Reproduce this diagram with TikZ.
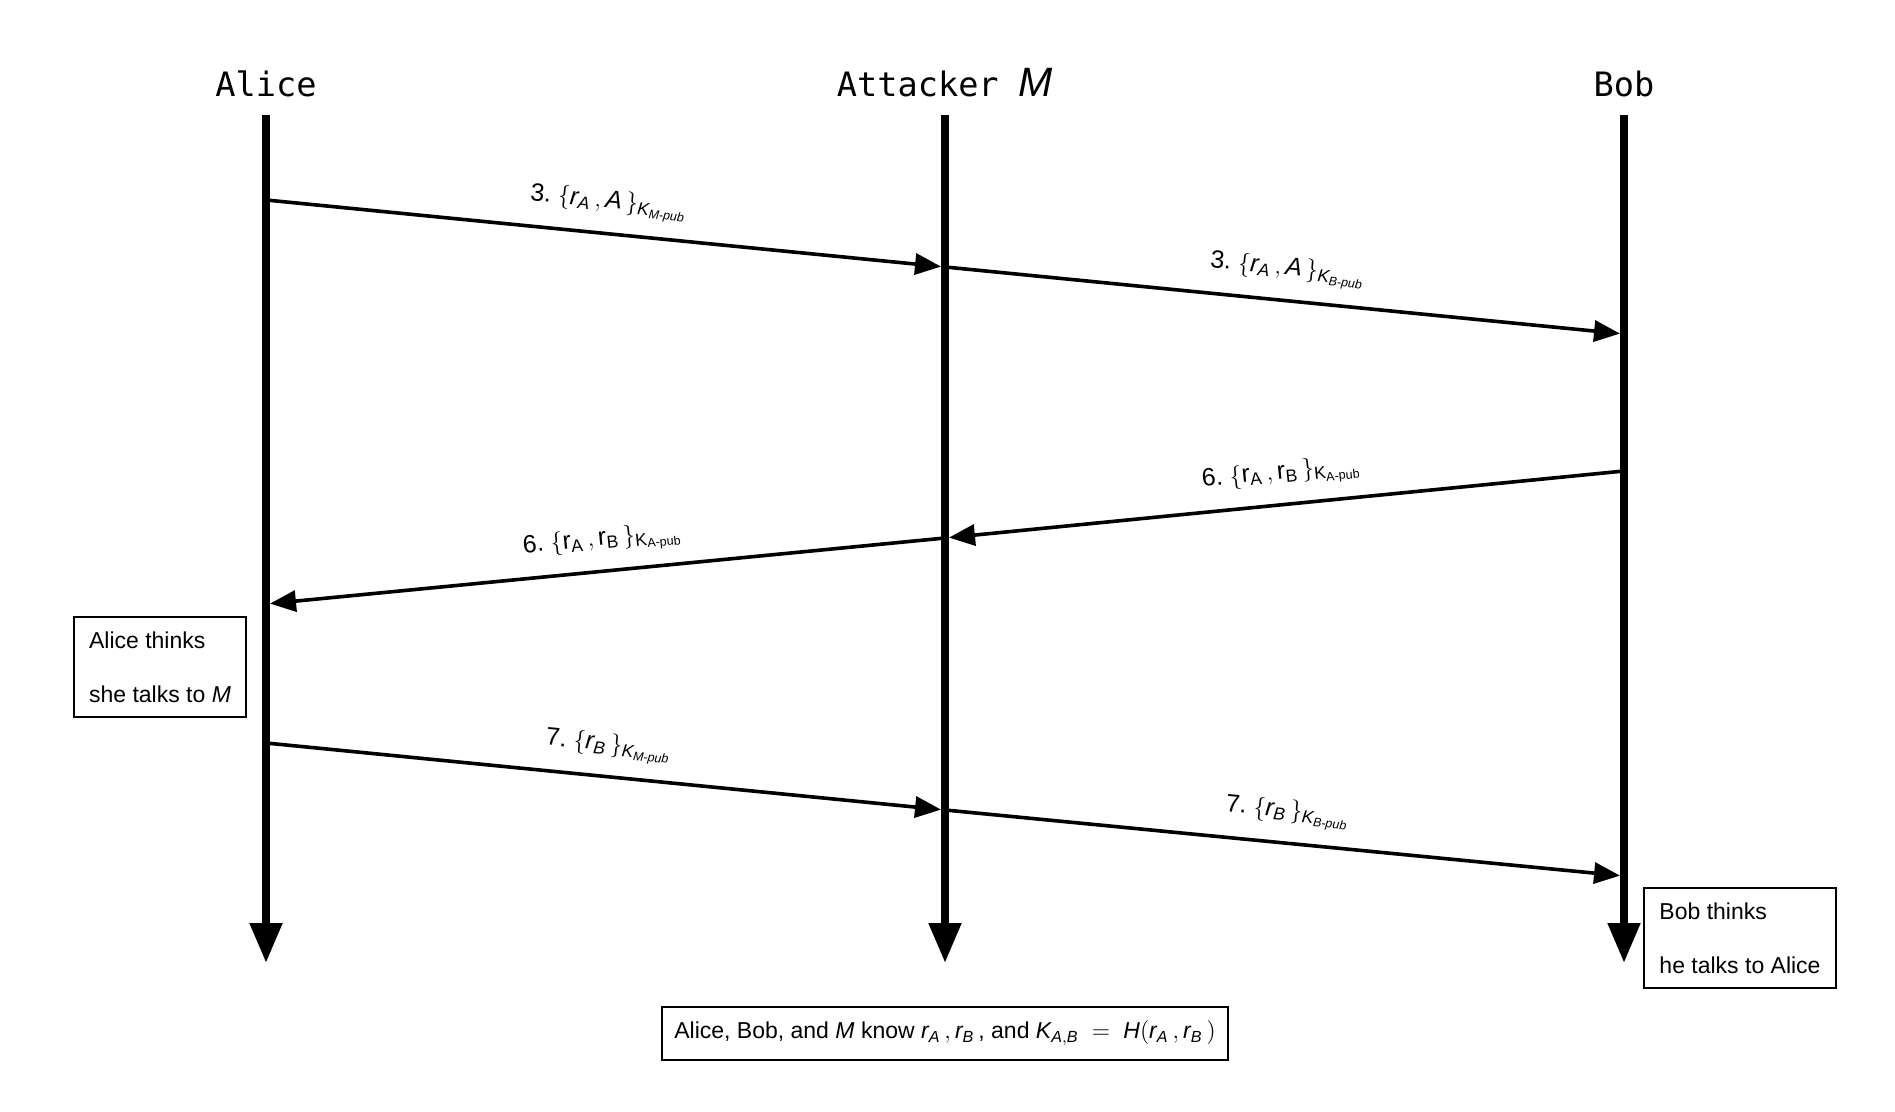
\documentclass[tikz,border=0pt]{standalone}
\usepackage{amsmath}
\usepackage{fontspec}
\setmainfont{Liberation Sans}
\newfontfamily\actorfont{DejaVu Sans Mono}
\usetikzlibrary{arrows.meta}
\newcommand{\mi}[1]{\mathit{#1}}
\newcommand{\pubkey}[1]{\mathit{K}_{\mathit{#1}\text{\itshape -}\mathit{pub}}}
\newcommand{\pubkeyup}[1]{\mathrm{K}_{\mathrm{#1}\text{-}\mathrm{pub}}}

\begin{document}
\begin{tikzpicture}[x=0.5pt, y=-0.5pt,
  actor/.style={font=\actorfont\fontsize{16.8}{20}\selectfont, anchor=base},
  lifeline/.style={line width=4pt, -{Triangle[length=20pt, width=15.5pt]}},
  msg/.style={line width=1.8pt, -{Triangle[length=13pt, width=10.5pt]}, shorten >=2pt},
  lbl/.style={midway, sloped, above=4pt, font=\fontsize{12.5}{14}\selectfont},
  note/.style={draw, line width=1pt, align=left, inner xsep=7.5pt, minimum height=50pt,
    font=\fontsize{11.5}{27}\selectfont}]
\useasboundingbox (0,0) rectangle (1895,1112);
% ---- parties and lifelines
\node[actor] (alice) at (266,97) {Alice};
\node[actor] (att) at (945,97) {Attacker {\fontsize{20.5}{24}\selectfont$\mi{M}$}};
\node[actor] (bob) at (1624,97) {Bob};
\coordinate (alice top) at (266,115); \coordinate (alice end) at (266,963);
\coordinate (att top) at (945,115);   \coordinate (att end) at (945,963);
\coordinate (bob top) at (1624,115);  \coordinate (bob end) at (1624,963);
\draw[lifeline] (alice top) -- (alice end);
\draw[lifeline] (att top) -- (att end);
\draw[lifeline] (bob top) -- (bob end);
% ---- message end points
\coordinate (a3) at (266,200); \coordinate (m3) at (945,267); \coordinate (b3) at (1624,334);
\coordinate (b6) at (1624,471); \coordinate (m6) at (945,538); \coordinate (a6) at (266,604);
\coordinate (a7) at (266,743); \coordinate (m7) at (945,810); \coordinate (b7) at (1624,876);
% ---- messages
\draw[msg] (a3) -- (m3) node[lbl] {3.~$\{\mi{r}_{\mi{A}}\,, \mi{A}\,\}_{\pubkey{M}}$};
\draw[msg] (m3) -- (b3) node[lbl] {3.~$\{\mi{r}_{\mi{A}}\,, \mi{A}\,\}_{\pubkey{B}}$};
\draw[msg] (b6) -- (m6) node[lbl] {6.~$\{\mathrm{r}_{\mathrm{A}}\,, \mathrm{r}_{\mathrm{B}}\,\}_{\pubkeyup{A}}$};
\draw[msg] (m6) -- (a6) node[lbl] {6.~$\{\mathrm{r}_{\mathrm{A}}\,, \mathrm{r}_{\mathrm{B}}\,\}_{\pubkeyup{A}}$};
\draw[msg] (a7) -- (m7) node[lbl] {7.~$\{\mi{r}_{\mi{B}}\,\}_{\pubkey{M}}$};
\draw[msg] (m7) -- (b7) node[lbl] {7.~$\{\mi{r}_{\mi{B}}\,\}_{\pubkey{B}}$};
% ---- notes
\node[note] (alice note) at (160,667) {Alice thinks\\she talks to $\mi{M}$};
\node[note] (bob note) at (1740,938) {Bob thinks\\he talks to Alice};
\node[note, minimum height=26.5pt, inner xsep=6pt, font=\fontsize{11.5}{14}\selectfont] (shared) at (945,1033)
  {Alice, Bob, and $\mi{M}$ know $\mi{r}_{\mi{A}}\,, \mi{r}_{\mi{B}}\,$, and $\mi{K}_{\mi{A},\mi{B}} \;=\; \mi{H}(\mi{r}_{\mi{A}}\,, \mi{r}_{\mi{B}}\,)$};
\end{tikzpicture}
\end{document}
